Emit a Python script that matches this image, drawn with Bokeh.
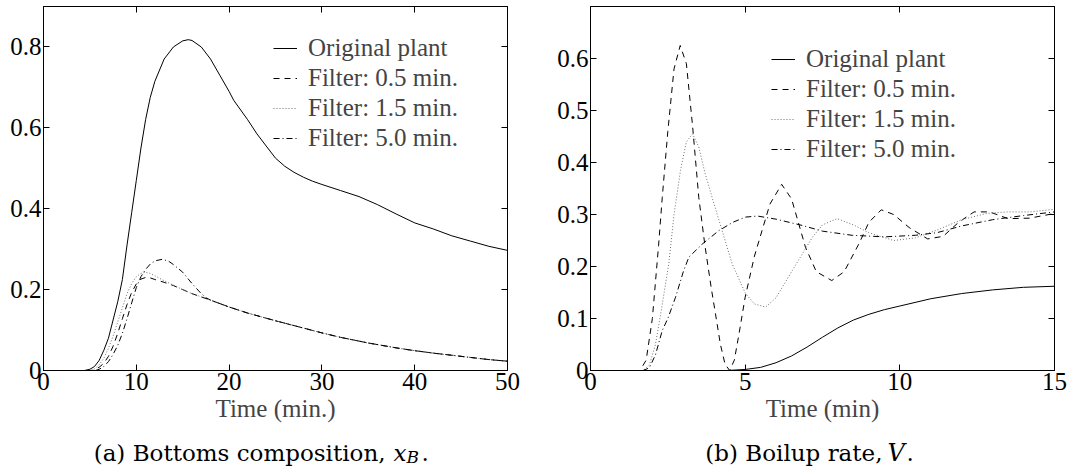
from bokeh.plotting import figure
from bokeh.models import Range1d, LinearAxis, FixedTicker, Legend, LegendItem, Label
from bokeh.layouts import row, column
from bokeh.embed import file_html
from bokeh.resources import INLINE

# ---------------- data: (a) bottoms composition ----------------
a_xticks = [0, 10, 20, 30, 40, 50]
a_yticks = [0, 0.2, 0.4, 0.6, 0.8]
a_ylabels = ["0", "0.2", "0.4", "0.6", "0.8"]

a_t_orig = [0, 4.4, 5, 5.5, 6, 6.5, 7, 7.5, 8, 8.5, 9, 9.5, 10, 10.5, 11, 11.5, 12, 13, 14, 15,
            15.6, 16, 17, 18, 19, 20, 20.5, 22, 23, 24, 25, 26, 27, 28, 29, 30, 32, 34, 36, 38,
            40, 42, 44, 46, 48, 50]
a_v_orig = [0, 0, 0.003, 0.01, 0.025, 0.05, 0.08, 0.125, 0.17, 0.225, 0.31, 0.39, 0.47, 0.55,
            0.62, 0.675, 0.715, 0.77, 0.80, 0.815, 0.818, 0.816, 0.80, 0.77, 0.73, 0.69, 0.668,
            0.62, 0.585, 0.555, 0.525, 0.505, 0.49, 0.478, 0.468, 0.46, 0.445, 0.43, 0.41, 0.387,
            0.365, 0.35, 0.333, 0.32, 0.307, 0.297]

a_t_f05 = [0, 5.3, 5.5, 6, 6.5, 7, 7.5, 8, 8.5, 9, 9.5, 10, 10.5, 11, 11.5, 12, 13, 14, 15, 16,
           17, 18, 20, 22, 25, 28, 30, 32, 35, 38, 40, 42, 45, 48, 50]
a_v_f05 = [0, 0, 0.002, 0.008, 0.018, 0.035, 0.06, 0.092, 0.128, 0.163, 0.193, 0.214, 0.226,
           0.23, 0.229, 0.225, 0.218, 0.21, 0.2, 0.19, 0.182, 0.174, 0.157, 0.142, 0.123, 0.105,
           0.093, 0.082, 0.068, 0.056, 0.049, 0.043, 0.035, 0.027, 0.023]

a_t_f15 = [0, 5.0, 5.5, 6, 6.5, 7, 7.5, 8, 8.5, 9, 9.5, 10, 10.5, 11, 11.5, 12, 13, 14, 15, 16,
           17, 18, 20, 22, 25, 28, 30, 32, 35, 38, 40, 42, 45, 48, 50]
a_v_f15 = [0, 0, 0.004, 0.014, 0.03, 0.055, 0.085, 0.12, 0.155, 0.19, 0.215, 0.232, 0.24, 0.243,
           0.24, 0.234, 0.222, 0.211, 0.2, 0.19, 0.182, 0.174, 0.157, 0.142, 0.123, 0.105, 0.093,
           0.082, 0.068, 0.056, 0.049, 0.043, 0.035, 0.027, 0.023]

a_t_f50 = [0, 5.6, 6, 6.5, 7, 7.5, 8, 8.5, 9, 9.5, 10, 10.5, 11, 11.5, 12, 12.8, 13.5, 14, 15, 16,
           17, 17.5, 18, 20, 22, 25, 28, 30, 32, 35, 38, 40, 42, 45, 48, 50]
a_v_f50 = [0, 0, 0.003, 0.01, 0.022, 0.04, 0.062, 0.092, 0.128, 0.167, 0.205, 0.232, 0.25, 0.263,
           0.271, 0.275, 0.27, 0.262, 0.243, 0.215, 0.19, 0.18, 0.174, 0.157, 0.142, 0.123, 0.105,
           0.093, 0.082, 0.068, 0.056, 0.049, 0.043, 0.035, 0.027, 0.023]

# ---------------- data: (b) boilup rate ----------------
b_xticks = [0, 5, 10, 15]
b_yticks = [0, 0.1, 0.2, 0.3, 0.4, 0.5, 0.6]
b_ylabels = ["0", "0.1", "0.2", "0.3", "0.4", "0.5", "0.6"]

b_t_orig = [0, 4.4, 5, 5.5, 6, 6.5, 7, 7.5, 8, 8.5, 9, 9.5, 10, 11, 12, 13, 14, 15]
b_v_orig = [0, 0, 0.002, 0.006, 0.015, 0.028, 0.045, 0.064, 0.082, 0.097, 0.108, 0.117, 0.124,
            0.138, 0.148, 0.155, 0.16, 0.162]

b_t_f05 = [0, 1.6, 1.8, 2.0, 2.2, 2.32, 2.5, 2.7, 2.9, 3.1, 3.3, 3.5, 3.7, 3.9, 4.04, 4.2, 4.35,
           4.5, 4.65, 4.8, 5.0, 5.3, 5.55, 5.8, 6.18, 6.5, 6.95, 7.3, 7.8, 8.2, 8.68, 9.0, 9.4,
           9.8, 10.3, 10.9, 11.4, 11.9, 12.4, 12.9, 13.5, 14.2, 15]
b_v_f05 = [0, 0, 0.02, 0.1, 0.24, 0.333, 0.46, 0.58, 0.625, 0.59, 0.47, 0.333, 0.24, 0.16, 0.109,
           0.05, 0.012, 0.0, 0.02, 0.07, 0.141, 0.22, 0.27, 0.32, 0.358, 0.33, 0.237, 0.19, 0.173,
           0.19, 0.244, 0.285, 0.309, 0.3, 0.275, 0.253, 0.258, 0.285, 0.305, 0.305, 0.292,
           0.293, 0.302]

b_t_f15 = [0, 1.7, 1.9, 2.1, 2.3, 2.53, 2.7, 2.91, 3.1, 3.3, 3.5, 3.7, 3.93, 4.2, 4.58, 5.01,
           5.3, 5.66, 6.0, 6.52, 7.17, 7.5, 7.97, 8.5, 9.0, 9.8, 10.5, 11.2, 12, 12.8, 13.5, 14.2,
           15]
b_v_f15 = [0, 0, 0.01, 0.05, 0.12, 0.205, 0.3, 0.385, 0.44, 0.455, 0.43, 0.38, 0.333, 0.28,
           0.205, 0.148, 0.128, 0.122, 0.14, 0.192, 0.256, 0.28, 0.292, 0.28, 0.265, 0.25, 0.255,
           0.27, 0.29, 0.302, 0.305, 0.305, 0.31]

b_t_f50 = [0, 1.7, 1.9, 2.1, 2.32, 2.5, 2.75, 3.0, 3.18, 3.61, 4.15, 4.6, 5.01, 5.4, 6.0, 6.84,
           7.5, 8.46, 9.5, 10.5, 11.2, 12, 13, 14, 15]
b_v_f50 = [0, 0, 0.005, 0.03, 0.077, 0.1, 0.141, 0.19, 0.218, 0.243, 0.269, 0.285, 0.295, 0.297,
           0.291, 0.279, 0.268, 0.26, 0.257, 0.26, 0.265, 0.278, 0.29, 0.298, 0.305]

legend_labels = ["Original plant", "Filter: 0.5 min.", "Filter: 1.5 min.", "Filter: 5.0 min."]

SERIF = "Liberation Serif"
CAP = "DejaVu Serif"
FS = "25px"
TOP, FRAME_H, BOTTOM = 6, 364, 70
WIN_H = 473

STYLES = [
    dict(line_color="black", line_width=1, line_dash="solid"),
    dict(line_color="black", line_width=1, line_dash="6 5"),
    dict(line_color="#6f6f6f", line_width=1, line_dash="1 2"),
    dict(line_color="black", line_width=1, line_dash="6 3 1 3"),
]


def style_axis(ax, ticks, overrides=None, show_labels=True):
    ax.ticker = FixedTicker(ticks=ticks)
    ax.major_tick_in = 6
    ax.major_tick_out = 0
    ax.minor_tick_line_color = None
    ax.axis_line_color = "black"
    ax.major_tick_line_color = "black"
    ax.major_label_text_font = SERIF
    ax.major_label_text_color = "black"
    if overrides:
        ax.major_label_overrides = overrides
    if show_labels:
        ax.major_label_text_font_size = FS
        ax.major_label_standoff = 2
    else:
        ax.major_label_text_font_size = "0px"
        ax.major_label_standoff = 0
        ax.major_label_overrides = {t: "" for t in ticks}


def make_panel(xr, yr, xticks, yticks, ylabels, xlabel, series, legend_loc, border_right):
    p = figure(frame_width=464, frame_height=FRAME_H, x_range=Range1d(*xr), y_range=Range1d(*yr),
               output_backend="svg", toolbar_location=None, tools="",
               min_border_left=43, min_border_right=border_right, min_border_top=TOP,
               min_border_bottom=BOTTOM, x_axis_location=None, y_axis_location=None)
    p.grid.visible = False
    p.outline_line_color = "black"
    p.background_fill_color = "white"
    p.border_fill_color = "white"

    ov = {t: s for t, s in zip(yticks, ylabels)}
    xb = LinearAxis(axis_label=xlabel)
    style_axis(xb, xticks)
    xb.axis_label_text_font = SERIF
    xb.axis_label_text_font_size = FS
    xb.axis_label_text_font_style = "normal"
    xb.axis_label_standoff = 2
    p.add_layout(xb, "below")
    yl = LinearAxis()
    style_axis(yl, yticks, overrides=ov)
    p.add_layout(yl, "left")
    xt = LinearAxis()
    style_axis(xt, xticks, show_labels=False)
    p.add_layout(xt, "above")
    yr_ax = LinearAxis()
    style_axis(yr_ax, yticks, show_labels=False)
    p.add_layout(yr_ax, "right")

    items = []
    for (tx, vy), lab, st in zip(series, legend_labels, STYLES):
        r = p.line(tx, vy, **st)
        items.append(LegendItem(label=lab, renderers=[r]))
    leg = Legend(items=items, location=legend_loc, label_text_font=SERIF,
                 label_text_font_size=FS, glyph_width=24, glyph_height=30,
                 label_height=30, spacing=0, padding=0, margin=0, label_standoff=11,
                 border_line_color=None, background_fill_alpha=0)
    p.add_layout(leg)
    return p


pa = make_panel((0, 50), (0, 0.9), a_xticks, a_yticks, a_ylabels, "Time (min.)",
                [(a_t_orig, a_v_orig), (a_t_f05, a_v_f05), (a_t_f15, a_v_f15), (a_t_f50, a_v_f50)],
                (230, 217), 40)
pb = make_panel((0, 15), (0, 0.7), b_xticks, b_yticks, b_ylabels, "Time (min)",
                [(b_t_orig, b_v_orig), (b_t_f05, b_v_f05), (b_t_f15, b_v_f15), (b_t_f50, b_v_f50)],
                (181, 206), 14)

# caption strip (a separate blank canvas so the texts are not clipped by a plot frame)
CAP_H = WIN_H - (TOP + FRAME_H + BOTTOM)
cap = figure(width=1068, height=CAP_H, x_range=Range1d(0, 1), y_range=Range1d(0, 1),
             output_backend="svg", toolbar_location=None, tools="",
             min_border=0, x_axis_location=None, y_axis_location=None)
cap.grid.visible = False
cap.outline_line_color = None
cap.background_fill_color = "white"
cap.border_fill_color = "white"

BASE = 21  # caption baseline, px above the bottom of the window
caption_pieces = [
    ("(a) Bottoms composition,", 385, 0, "23px", "normal", "right"),
    ("x", 393, 0, "23px", "italic", "left"),
    ("B", 406, -4, "17px", "italic", "left"),
    (".", 421, 0, "23px", "normal", "left"),
    ("(b) Boilup rate,", 882, 0, "23px", "normal", "right"),
    ("V", 887, 0, "24px", "italic", "left"),
    (".", 906, 0, "23px", "normal", "left"),
]
for (txt, x, dy, size, style, align) in caption_pieces:
    cap.add_layout(Label(x=x, y=BASE + dy, x_units="screen", y_units="screen",
                         text=txt, text_font=CAP, text_font_size=size,
                         text_font_style=style, text_align=align,
                         text_baseline="alphabetic", text_color="black"))

layout = column(row(pa, pb), cap)
open("out.html", "w").write(file_html(layout, INLINE))
